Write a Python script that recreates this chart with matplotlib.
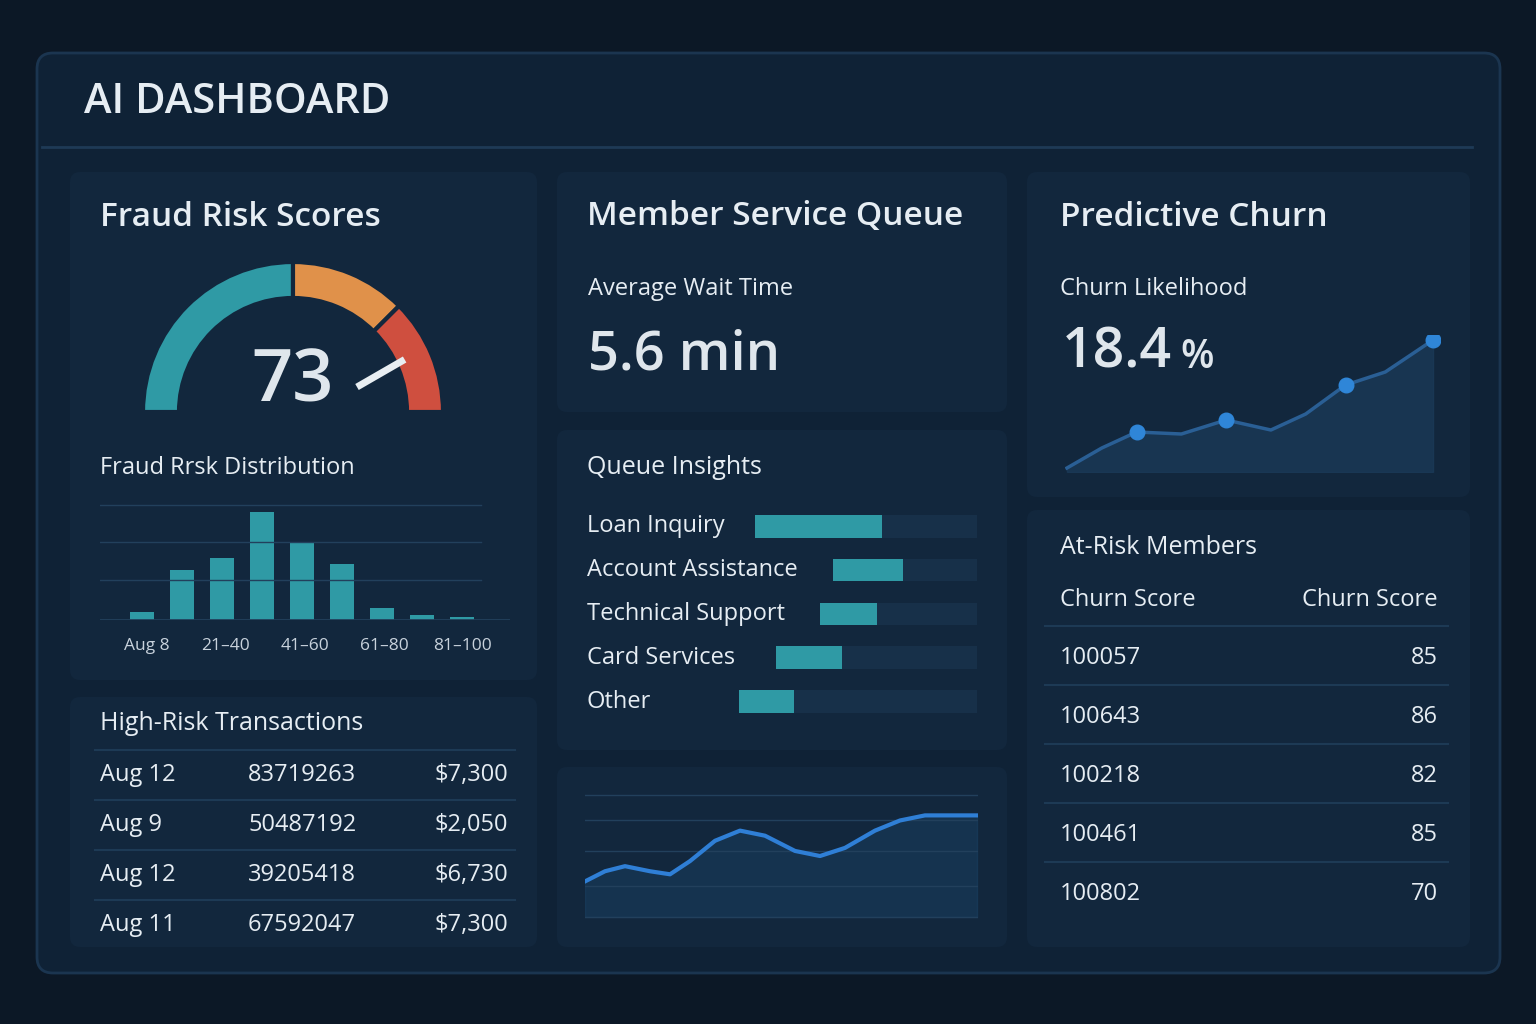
import matplotlib.pyplot as plt
from matplotlib.patches import FancyBboxPatch, Wedge
import numpy as np

plt.rcParams['font.family'] = ['Open Sans', 'DejaVu Sans']

W, H = 1536, 1024
BG = '#0c1826'
FRAME = '#0f2236'
PANEL = '#12273d'
TEXT = '#e6edf3'
TEAL = '#2f9aa5'
TRACK = '#173049'
GRID = '#22405c'

# data
gauge_value = 73
gauge_colors = ['#2f9aa5', '#e0914a', '#cf4f3f']
gauge_spans = [(90, 180), (45, 90), (0, 45)]
hist_heights = [8, 50, 62, 108, 78, 56, 12, 5, 3]
hist_labels = ['Aug 8', '21–40', '41–60', '61–80', '81–100']
txn_dates = ['Aug 12', 'Aug 9', 'Aug 12', 'Aug 11']
txn_ids = ['83719263', '50487192', '39205418', '67592047']
txn_amounts = ['$7,300', '$2,050', '$6,730', '$7,300']
queue_cats = ['Loan Inquiry', 'Account Assistance', 'Technical Support', 'Card Services', 'Other']
queue_start = [755, 833, 820, 776, 739]
queue_end = [882, 903, 877, 842, 794]
wait_x = [0, 20, 40, 65, 85, 105, 130, 155, 180, 210, 235, 260, 290, 315, 340, 365, 392]
wait_y = [35, 45, 50, 45, 42, 55, 75, 85, 80, 65, 60, 68, 85, 95, 100, 100, 100]
churn_x = [0, 35, 70, 115, 160, 205, 240, 280, 320, 368]
churn_y = [4, 24, 40, 38, 52, 42, 58, 87, 100, 132]
churn_marks = [2, 4, 7, 9]
member_ids = ['100057', '100643', '100218', '100461', '100802']
member_scores = [85, 86, 82, 85, 70]

fig = plt.figure(figsize=(W / 100, H / 100), dpi=100, facecolor=BG)
bg = fig.add_axes([0, 0, 1, 1])
bg.set_xlim(0, W)
bg.set_ylim(H, 0)
bg.axis('off')


def box(x0, y0, x1, y1, fc, ec='none', r=10, lw=1.5):
    bg.add_patch(FancyBboxPatch((x0, y0), x1 - x0, y1 - y0, boxstyle=f'round,pad=0,rounding_size={r}',
                                fc=fc, ec=ec, lw=lw))


def sub(x0, y0, x1, y1):
    ax = fig.add_axes([x0 / W, 1 - y1 / H, (x1 - x0) / W, (y1 - y0) / H])
    ax.set_facecolor('none')
    for s in ax.spines.values():
        s.set_visible(False)
    ax.tick_params(left=False, bottom=False, labelleft=False, labelbottom=False)
    return ax


box(37, 53, 1500, 973, FRAME, ec='#1b3550', r=16, lw=2)
bg.plot([42, 1472], [147, 147], color='#1e3a56', lw=2)
bg.text(84, 102, 'AI DASHBOARD', color=TEXT, fontsize=30, fontweight='semibold', va='center')

for p in [(70, 172, 537, 680), (70, 697, 537, 947), (557, 172, 1007, 412), (557, 430, 1007, 750),
          (557, 767, 1007, 947), (1027, 172, 1470, 497), (1027, 510, 1470, 947)]:
    box(*p, PANEL)

# Fraud risk panel
bg.text(100, 217, 'Fraud Risk Scores', color=TEXT, fontsize=24, fontweight='semibold', va='center')
for c, (a0, a1) in zip(gauge_colors, gauge_spans):
    bg.add_patch(Wedge((293, 412), 150, -a1, -a0, width=36, fc=c, ec=PANEL, lw=3))
bg.text(293, 382, str(gauge_value), color='#dfe6ec', fontsize=52, fontweight='semibold', ha='center', va='center')
ang = np.deg2rad(30)
bg.plot([357, 357 + 55 * np.cos(ang)], [387, 387 - 55 * np.sin(ang)], color='#e8eef2', lw=5, solid_capstyle='butt')

bg.text(100, 468, 'Fraud Rrsk Distribution', color=TEXT, fontsize=17, va='center')
ah = sub(100, 495, 510, 620)
for gy in [115, 78, 40]:
    ah.axhline(gy, color=GRID, lw=1, xmin=0, xmax=0.93)
ah.axhline(0, color=GRID, lw=2)
ah.bar(np.arange(len(hist_heights)), hist_heights, width=0.62, color=TEAL)
ah.set_xlim(-1.05, 9.2)
ah.set_ylim(0, 125)
for i, lab in enumerate(hist_labels):
    bg.text(147 + 79 * i, 646, lab, color='#c8d2dc', fontsize=12.5, ha='center', va='center')

# High-risk transactions
bg.text(100, 723, 'High-Risk Transactions', color=TEXT, fontsize=18, va='center')
for i in range(4):
    y = 775 + 50 * i
    bg.plot([95, 515], [y - 25, y - 25], color='#1d3a55', lw=1.5)
    bg.text(100, y, txn_dates[i], color=TEXT, fontsize=17, va='center')
    bg.text(248, y, txn_ids[i], color=TEXT, fontsize=17, va='center')
    bg.text(508, y, txn_amounts[i], color=TEXT, fontsize=17, va='center', ha='right')

# Member service queue
bg.text(587, 217, 'Member Service Queue', color=TEXT, fontsize=24, fontweight='semibold', va='center')
bg.text(588, 289, 'Average Wait Time', color=TEXT, fontsize=17, va='center')
bg.text(588, 356, '5.6 min', color='#dfe6ec', fontsize=39, fontweight='semibold', va='center')

bg.text(587, 468, 'Queue Insights', color=TEXT, fontsize=18, va='center')
aq = sub(587, 500, 980, 730)
n = len(queue_cats)
yy = np.arange(n)
aq.barh(yy, [977 - s for s in queue_start], left=queue_start, height=0.52, color=TRACK)
aq.barh(yy, [e - s for s, e in zip(queue_start, queue_end)], left=queue_start, height=0.52, color=TEAL)
aq.set_xlim(587, 980)
aq.set_ylim(n - 0.35, -0.6)
for i, c in enumerate(queue_cats):
    aq.text(587, i, c, color=TEXT, fontsize=17, va='center')

aw = sub(585, 790, 978, 920)
for gy in [0, 30, 65, 95, 120]:
    aw.axhline(gy, color=GRID, lw=1)
aw.plot(wait_x, wait_y, color='#2f7fd6', lw=3)
aw.fill_between(wait_x, wait_y, 0, color='#1d4a73', alpha=0.35)
aw.set_xlim(0, 393)
aw.set_ylim(-3, 125)

# Predictive churn
bg.text(1060, 217, 'Predictive Churn', color=TEXT, fontsize=24, fontweight='semibold', va='center')
bg.text(1060, 289, 'Churn Likelihood', color=TEXT, fontsize=17, va='center')
bg.text(1062, 354, '18.4', color='#dfe6ec', fontsize=40, fontweight='semibold', va='center')
bg.text(1180, 358, '%', color='#dfe6ec', fontsize=28, fontweight='semibold', va='center')
ac = sub(1065, 335, 1440, 472)
ac.plot(churn_x, churn_y, color='#2a5f95', lw=2.5)
ac.fill_between(churn_x, churn_y, 0, color='#1b3b5a', alpha=0.7)
ac.scatter([churn_x[i] for i in churn_marks], [churn_y[i] for i in churn_marks], s=110, color='#2f86d8', zorder=3)
ac.set_xlim(-2, 375)
ac.set_ylim(0, 137)

# At-risk members
bg.text(1060, 548, 'At-Risk Members', color=TEXT, fontsize=18, va='center')
bg.text(1060, 600, 'Churn Score', color=TEXT, fontsize=17, va='center')
bg.text(1438, 600, 'Churn Score', color=TEXT, fontsize=17, va='center', ha='right')
for i, (m, s) in enumerate(zip(member_ids, member_scores)):
    y = 658 + 59 * i
    bg.plot([1045, 1448], [y - 32, y - 32], color='#1d3a55', lw=1.5)
    bg.text(1060, y, m, color=TEXT, fontsize=17, va='center')
    bg.text(1438, y, str(s), color=TEXT, fontsize=17, va='center', ha='right')

fig.savefig('out.png', dpi=100, facecolor=BG)
